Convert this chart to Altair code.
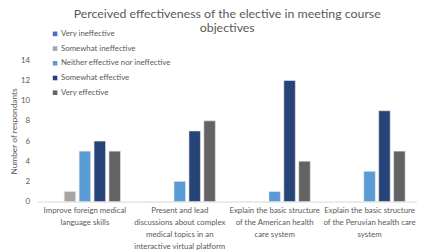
import altair as alt
import pandas as pd

categories = [
    "Improve foreign medical\nlanguage skills",
    "Present and lead\ndiscussions about complex\nmedical topics in an\ninteractive virtual platform",
    "Explain the basic structure\nof the American health\ncare system",
    "Explain the basic structure\nof the Peruvian health care\nsystem",
]
series = ["Very ineffective", "Somewhat ineffective", "Neither effective nor ineffective",
          "Somewhat effective", "Very effective"]
colors = ["#4472C4", "#A5A5A5", "#5B9BD5", "#264478", "#636363"]
values = {
    "Very ineffective": [0, 0, 0, 0],
    "Somewhat ineffective": [1, 0, 0, 0],
    "Neither effective nor ineffective": [5, 2, 1, 3],
    "Somewhat effective": [6, 7, 12, 9],
    "Very effective": [5, 8, 4, 5],
}

rows = []
for s in series:
    for c, v in zip(categories, values[s]):
        rows.append({"cat": c, "series": s, "value": v})
df = pd.DataFrame(rows)

FONT = "Lato"
GREY = "#595959"

chart = alt.Chart(df).mark_bar(stroke="#e8e8e8", strokeWidth=0.6).encode(
    x=alt.X("cat:N", sort=categories, title=None,
            scale=alt.Scale(paddingInner=0.25, paddingOuter=0.125),
            axis=alt.Axis(labelAngle=0, labelExpr="split(datum.label, '\\n')",
                          labelFont=FONT, labelFontSize=8, labelColor=GREY,
                          labelLineHeight=12.3, labelPadding=5, ticks=False,
                          domainColor="#d9d9d9", labelLimit=200)),
    xOffset=alt.XOffset("series:N", sort=series,
                        scale=alt.Scale(paddingInner=0.23, paddingOuter=0)),
    y=alt.Y("value:Q", title="Number of respondants",
            scale=alt.Scale(domain=[0, 14]),
            axis=alt.Axis(values=list(range(0, 15, 2)), grid=False, domain=False,
                          ticks=False, labelFont=FONT, labelFontSize=8, labelColor=GREY,
                          labelPadding=8, titleFont=FONT, titleFontSize=8.5,
                          titleColor=GREY, titleFontWeight="normal", titlePadding=2)),
    color=alt.Color("series:N", sort=series,
                    scale=alt.Scale(domain=series, range=colors),
                    legend=alt.Legend(title=None, orient="none", legendX=14, legendY=-31,
                                      symbolType="square", symbolSize=22,
                                      symbolStrokeWidth=0,
                                      labelFont=FONT, labelFontSize=8,
                                      labelColor=GREY, rowPadding=7, labelOffset=2,
                                      labelLimit=300)),
).properties(
    width=387, height=144,
    title=alt.TitleParams(
        ["Perceived effectiveness of the elective in meeting course", "objectives"],
        font=FONT, fontSize=12.6, color=GREY, fontWeight="normal",
        anchor="middle", frame="group", lineHeight=15, offset=0, dy=5),
    autosize=alt.AutoSizeParams(type="none"),
    padding={"left": 30, "top": 51, "right": 0, "bottom": 47},
).configure_view(stroke=None)

chart.save("out.html", embed_options={"renderer": "svg", "actions": False})
